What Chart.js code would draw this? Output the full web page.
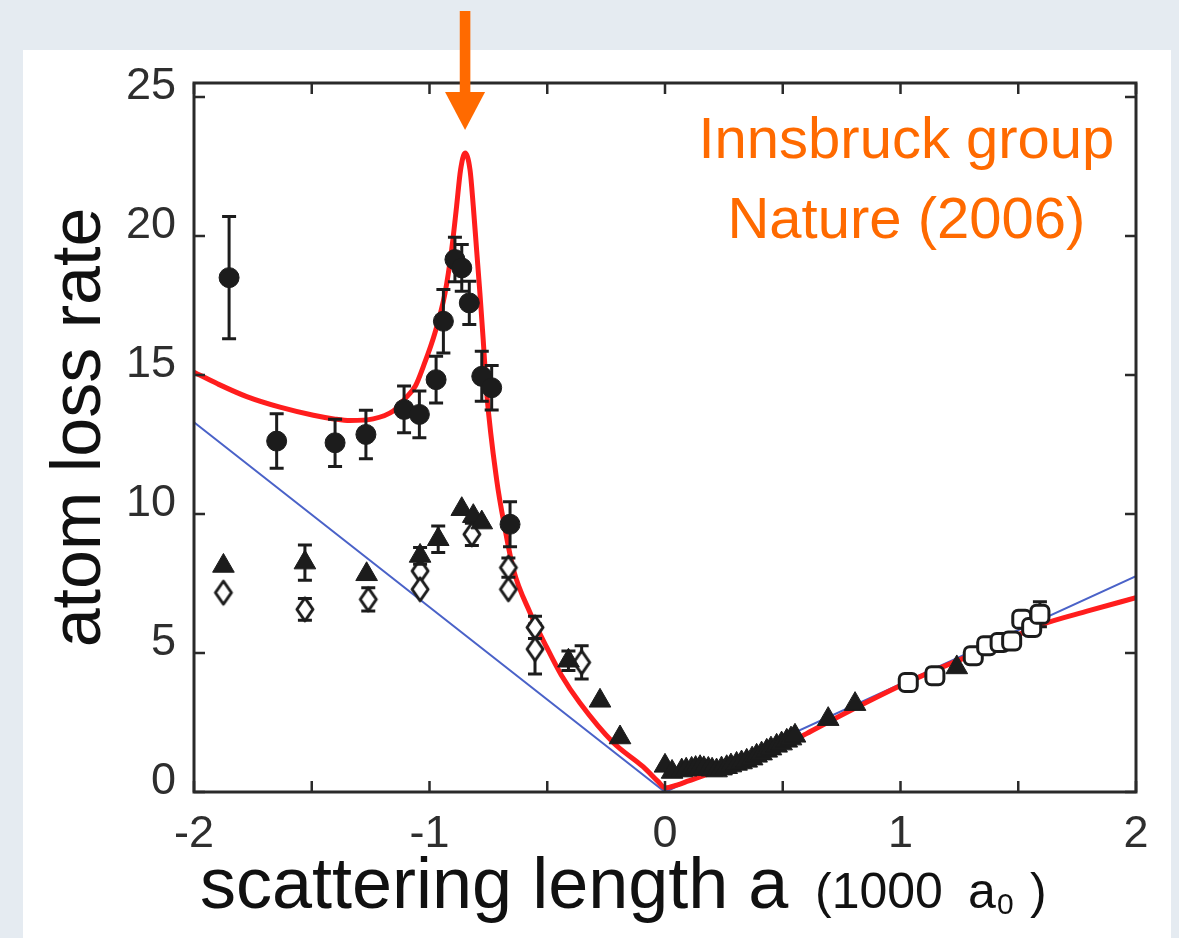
<!DOCTYPE html>
<html>
<head>
<meta charset="utf-8">
<title>Atom loss rate vs scattering length</title>
<script src="https://cdn.jsdelivr.net/npm/chart.js@4.4.1/dist/chart.umd.min.js"></script>
<style>
  html, body { margin: 0; padding: 0; }
  body { width: 1179px; height: 938px; overflow: hidden; position: relative;
         background: #e5ebf1; }
  #panel { position: absolute; left: 23px; top: 50px; width: 1148px; height: 888px; background: #ffffff; }
  #c { position: absolute; left: 0; top: 0; }
</style>
</head>
<body>
<div id="panel"></div>
<canvas id="c" width="1179" height="938"></canvas>
<script>
// ---- axis ticks ----
const xLabelValues = [-2, -1, 0, 1, 2];
const xTickMarks = [-2, -1.5, -1, -0.5, 0, 0.5, 1, 1.5, 2];
const yLabelValues = [0, 5, 10, 15, 20, 25];

// ---- theory curves (scattering length in 1000 a0, loss rate) ----
const fitX = [-2.0, -1.9, -1.776, -1.635, -1.493, -1.40, -1.338, -1.239, -1.154, -1.104, -1.060,
              -1.026, -0.977, -0.934, -0.906, -0.885, -0.868, -0.849, -0.828, -0.814, -0.800,
              -0.786, -0.772, -0.757, -0.715, -0.679, -0.644, -0.573, -0.502, -0.440, -0.361,
              -0.220, -0.092, -0.03, 0.0, 0.05, 0.1, 0.2, 0.3, 0.432, 0.601, 0.771, 1.026,
              1.309, 1.507, 1.592, 1.8, 2.0];
const fitY = [15.10, 14.68, 14.22, 13.84, 13.55, 13.41, 13.36, 13.42, 13.70, 14.15, 14.60,
              15.31, 16.51, 17.95, 19.50, 21.06, 22.38, 22.98, 22.38, 21.06, 19.50,
              17.95, 16.27, 14.35, 11.24, 9.45, 8.01, 6.45, 5.20, 4.20, 3.20,
              1.78, 0.90, 0.38, 0.15, 0.25, 0.40, 0.70, 0.98, 1.35, 2.10, 2.86, 3.93,
              4.96, 5.68, 6.00, 6.52, 6.99];
const linX = [-2, 0, 2];
const linY = [13.3, 0, 7.76];

// ---- measurements ----
const circleX = [-1.851, -1.649, -1.401, -1.270, -1.108, -1.043, -0.972, -0.941, -0.892, -0.863, -0.831, -0.778, -0.736, -0.658];
const circleY = [18.50, 12.62, 12.56, 12.86, 13.76, 13.58, 14.83, 16.93, 19.15, 18.85, 17.59, 14.95, 14.54, 9.63];
const circleErr = [2.2, 0.98, 0.85, 0.87, 0.84, 0.84, 0.84, 1.14, 0.80, 0.84, 0.78, 0.90, 0.80, 0.81];

const triX = [-1.875, -1.529, -1.267, -1.040, -0.963, -0.863, -0.814, -0.778, -0.410, -0.276, -0.191,
              0.0, 0.03, 0.071, 0.09, 0.113, 0.13, 0.149, 0.165, 0.184, 0.20, 0.219, 0.24, 0.262,
              0.28, 0.304, 0.325, 0.347, 0.37, 0.389, 0.41, 0.432, 0.45, 0.474, 0.495,
              0.517, 0.535, 0.552, 0.693, 0.807, 1.239];
const triY = [8.13, 8.25, 7.83, 8.49, 9.09, 10.17, 9.92, 9.69, 4.72, 3.28, 1.96,
              0.94, 0.72, 0.77, 0.80, 0.83, 0.86, 0.89, 0.85, 0.83, 0.80, 0.77, 0.84, 0.89,
              0.95, 1.01, 1.06, 1.12, 1.20, 1.30, 1.38, 1.48, 1.56, 1.66, 1.74,
              1.84, 1.92, 2.02, 2.62, 3.16, 4.48];
const triErr = [0, 0.63, 0, 0.30, 0.48, 0, 0, 0, 0.35, 0, 0];

const diaX = [-1.875, -1.529, -1.260, -1.040, -1.040, -0.820, -0.665, -0.665, -0.552, -0.552, -0.354];
const diaY = [7.17, 6.57, 6.93, 7.95, 7.29, 9.27, 8.07, 7.29, 5.92, 5.14, 4.66];
const diaErr = [0, 0.39, 0.42, 0, 0, 0.40, 0.35, 0, 0.40, 0.90, 0.60];

const sqX = [1.033, 1.146, 1.309, 1.366, 1.423, 1.472, 1.515, 1.557, 1.592];
const sqY = [3.94, 4.18, 4.90, 5.26, 5.38, 5.43, 6.21, 5.92, 6.39];
const sqErr = [0, 0, 0, 0, 0, 0, 0, 0, 0.45];

const pts = (xs, ys) => xs.map((x, i) => ({ x: x, y: ys[i] }));

const INK = '#1c1c1c';
const ORANGE = '#ff6a00';

// tall open diamond marker
function diamondMarker(w, h, lw) {
  const cv = document.createElement('canvas');
  cv.width = w + lw * 2; cv.height = h + lw * 2;
  const g = cv.getContext('2d');
  const cx = cv.width / 2, cy = cv.height / 2;
  g.beginPath();
  g.moveTo(cx, cy - h / 2); g.lineTo(cx + w / 2, cy);
  g.lineTo(cx, cy + h / 2); g.lineTo(cx - w / 2, cy);
  g.closePath();
  g.fillStyle = '#fff'; g.fill();
  g.lineWidth = lw; g.strokeStyle = INK; g.lineJoin = 'round'; g.stroke();
  return cv;
}

// error bars drawn just before each dataset's markers
const errorBars = {
  id: 'errorBars',
  beforeDatasetDraw(chart, args) {
    const ds = chart.data.datasets[args.index];
    if (!ds.errors) return;
    const { ctx, scales: { x, y } } = chart;
    ctx.save();
    ctx.strokeStyle = INK;
    ctx.lineWidth = 3;
    ds.data.forEach((p, i) => {
      const e = ds.errors[i];
      if (!e) return;
      const px = x.getPixelForValue(p.x);
      const yt = y.getPixelForValue(p.y + e);
      const yb = y.getPixelForValue(p.y - e);
      ctx.beginPath();
      ctx.moveTo(px, yt); ctx.lineTo(px, yb);
      ctx.moveTo(px - 7, yt); ctx.lineTo(px + 7, yt);
      ctx.moveTo(px - 7, yb); ctx.lineTo(px + 7, yb);
      ctx.stroke();
    });
    ctx.restore();
  }
};

// boxed frame with inward tick marks on all four sides
const frame = {
  id: 'frame',
  afterDatasetsDraw(chart) {
    const { ctx, chartArea: a, scales: { x, y } } = chart;
    ctx.save();
    ctx.strokeStyle = '#2a2a2a';
    ctx.lineWidth = 3;
    ctx.strokeRect(a.left, a.top, a.right - a.left, a.bottom - a.top);
    ctx.lineWidth = 2.5;
    ctx.beginPath();
    xTickMarks.forEach(v => {
      const px = x.getPixelForValue(v);
      ctx.moveTo(px, a.bottom); ctx.lineTo(px, a.bottom - 11);
      ctx.moveTo(px, a.top); ctx.lineTo(px, a.top + 11);
    });
    yLabelValues.forEach(v => {
      const py = y.getPixelForValue(v);
      ctx.moveTo(a.left, py); ctx.lineTo(a.left + 11, py);
      ctx.moveTo(a.right, py); ctx.lineTo(a.right - 11, py);
    });
    ctx.stroke();
    ctx.restore();
  }
};

// axis titles, resonance arrow and source note
const decorations = {
  id: 'decorations',
  afterDraw(chart) {
    const { ctx, chartArea: a, scales: { x, y } } = chart;
    ctx.save();

    // y title
    ctx.fillStyle = '#111';
    ctx.font = '70px "Liberation Sans", Arial, sans-serif';
    ctx.textAlign = 'center';
    ctx.textBaseline = 'alphabetic';
    ctx.save();
    ctx.translate(100, (a.top + a.bottom) / 2 - 10);
    ctx.rotate(-Math.PI / 2);
    ctx.fillText('atom loss rate', 0, 0);
    ctx.restore();

    // x title
    ctx.textAlign = 'left';
    ctx.font = '72px "Liberation Sans", Arial, sans-serif';
    ctx.fillText('scattering length a', 200, 908);
    ctx.font = '50px "Liberation Sans", Arial, sans-serif';
    ctx.fillText('(1000', 815, 908);
    ctx.fillText('a', 968, 908);
    ctx.font = '30px "Liberation Sans", Arial, sans-serif';
    ctx.fillText('0', 997, 914);
    ctx.font = '50px "Liberation Sans", Arial, sans-serif';
    ctx.fillText(')', 1030, 908);

    // arrow marking the resonance peak of the fit
    let iMax = 0;
    fitY.forEach((v, i) => { if (v > fitY[iMax]) iMax = i; });
    const ax = x.getPixelForValue(fitX[iMax]);
    ctx.fillStyle = ORANGE;
    ctx.fillRect(ax - 5.3, 11, 10.6, 84);
    ctx.beginPath();
    ctx.moveTo(ax - 20, 92);
    ctx.lineTo(ax + 20, 92);
    ctx.lineTo(ax, 130);
    ctx.closePath();
    ctx.fill();

    // source note
    ctx.font = '58px "Liberation Sans", Arial, sans-serif';
    ctx.textAlign = 'center';
    const nx = x.getPixelForValue(1.025);
    ctx.fillText('Innsbruck group', nx, 158);
    ctx.fillText('Nature (2006)', nx, 238);
    ctx.restore();
  }
};

const tickFont = { family: '"Liberation Sans", Arial, sans-serif', size: 45 };

new Chart(document.getElementById('c'), {
  type: 'scatter',
  data: {
    datasets: [
      { label: 'circles', data: pts(circleX, circleY), errors: circleErr,
        pointStyle: 'circle', pointRadius: 10, backgroundColor: INK, borderColor: INK, borderWidth: 1, order: 1 },
      { label: 'squares', data: pts(sqX, sqY), errors: sqErr,
        pointStyle: 'rectRounded', pointRadius: 10.5, backgroundColor: '#fff', borderColor: INK, borderWidth: 3, order: 2 },
      { label: 'triangles', data: pts(triX, triY), errors: triErr,
        pointStyle: 'triangle', pointRadius: 12.5, backgroundColor: INK, borderColor: INK, borderWidth: 1, order: 3 },
      { label: 'diamonds', data: pts(diaX, diaY), errors: diaErr,
        pointStyle: diamondMarker(16, 23, 3), pointRadius: 10, order: 4 },
      { label: 'fit', data: pts(fitX, fitY), showLine: true, pointRadius: 0,
        borderColor: '#ff1d1d', borderWidth: 5, cubicInterpolationMode: 'monotone', order: 9 },
      { label: 'linear', data: pts(linX, linY), showLine: true, pointRadius: 0,
        borderColor: '#4a62c8', borderWidth: 2, order: 10 }
    ]
  },
  options: {
    responsive: false,
    animation: false,
    events: [],
    layout: { padding: { top: 83, right: 43, left: 0, bottom: 0 } },
    plugins: { legend: { display: false }, tooltip: { enabled: false } },
    scales: {
      x: {
        type: 'linear', min: -2, max: 2,
        grid: { display: false }, border: { display: false },
        ticks: {
          stepSize: 0.5, autoSkip: false, maxRotation: 0, padding: 8,
          font: tickFont, color: '#2e2e2e',
          callback: v => xLabelValues.some(l => Math.abs(l - v) < 1e-9) ? String(Math.round(v)) : ''
        },
        afterFit: s => { s.height = 146; }
      },
      y: {
        type: 'linear', min: 0, max: 25.5,
        grid: { display: false }, border: { display: false },
        ticks: {
          stepSize: 5, includeBounds: false, padding: 10, labelOffset: -10,
          font: tickFont, color: '#2e2e2e',
          callback: v => yLabelValues.includes(v) ? String(v) : ''
        },
        afterFit: s => { s.width = 194; }
      }
    }
  },
  plugins: [errorBars, frame, decorations]
});
</script>
</body>
</html>
